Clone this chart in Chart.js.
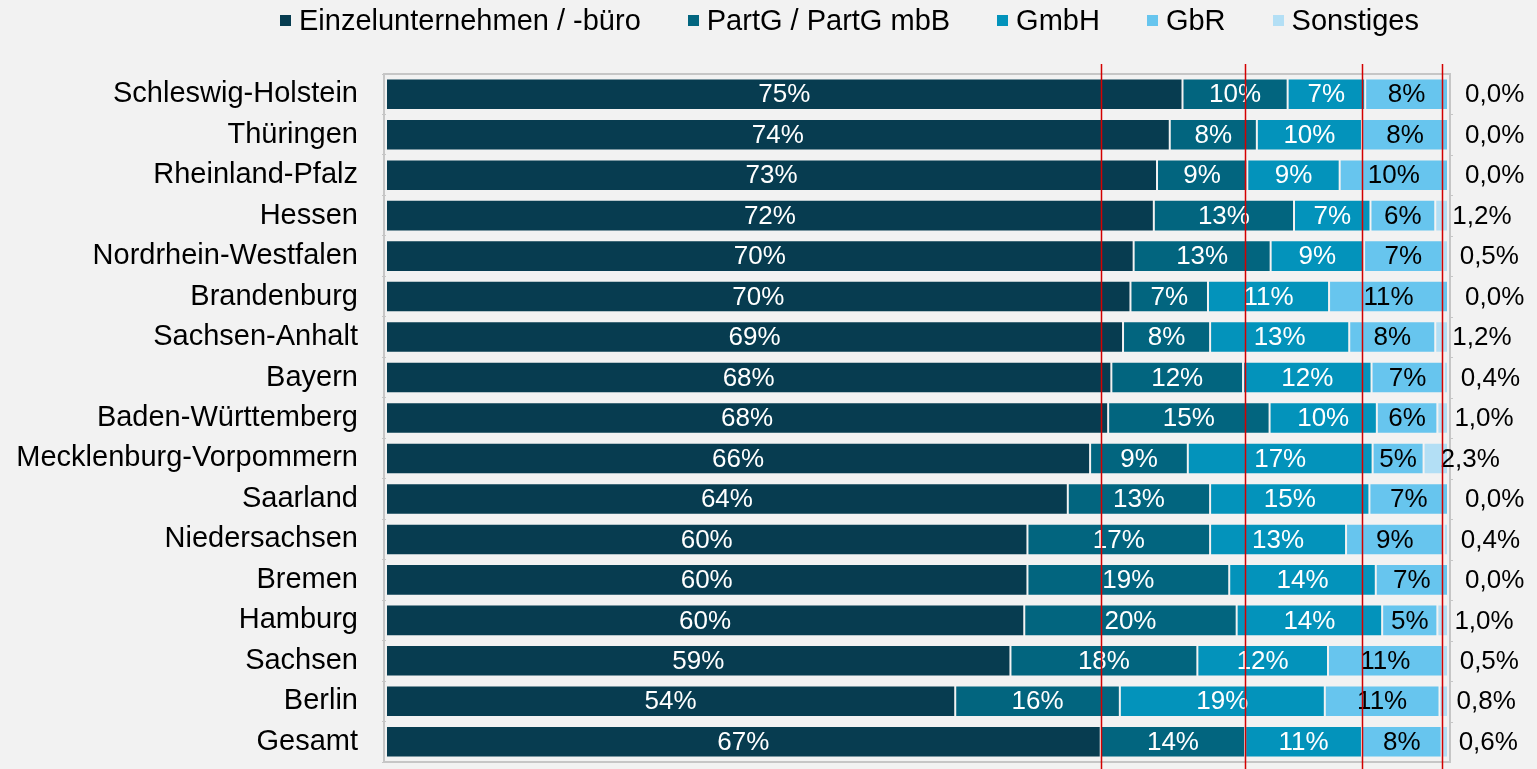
<!DOCTYPE html>
<html lang="de">
<head>
<meta charset="utf-8">
<title>Rechtsformen nach Bundesland</title>
<script src="https://cdn.jsdelivr.net/npm/chart.js@4"></script>
<style>
  body { margin: 0; background: #f2f2f2; font-family: "Liberation Sans", Arial, sans-serif; }
  #wrap { position: relative; width: 1537px; height: 769px; }
  #legend { position: absolute; top: 4px; left: 280px; display: flex; gap: 47px; font-size: 29px; line-height: 32px; color: #000; }
  .item { display: flex; align-items: center; }
  .box { width: 11px; height: 11px; margin-right: 8px; }
  canvas { position: absolute; left: 0; top: 0; }
</style>
</head>
<body>
<div id="wrap">
  <canvas id="myChart" width="1537" height="769"></canvas>
  <div id="legend"></div>
</div>
<script>
  // Kategorien (Bundesländer)
  const categories = ["Schleswig-Holstein", "Thüringen", "Rheinland-Pfalz", "Hessen", "Nordrhein-Westfalen",
    "Brandenburg", "Sachsen-Anhalt", "Bayern", "Baden-Württemberg", "Mecklenburg-Vorpommern",
    "Saarland", "Niedersachsen", "Bremen", "Hamburg", "Sachsen", "Berlin", "Gesamt"];

  // Anteile in Prozent
  const einzel = [75.0, 73.8, 72.6, 72.3, 70.4, 70.1, 69.4, 68.3, 68.0, 66.3, 64.2, 60.4, 60.4, 60.1, 58.8, 53.6, 67.3];
  const partg = [9.9, 8.2, 8.5, 13.2, 12.9, 7.3, 8.2, 12.4, 15.2, 9.2, 13.4, 17.2, 19.0, 20.0, 17.6, 15.5, 13.6];
  const gmbh = [7.3, 9.9, 8.7, 7.2, 8.8, 11.4, 13.1, 12.1, 10.1, 17.4, 15.0, 12.8, 13.8, 13.7, 12.3, 19.3, 11.0];
  const gbr = [7.8, 8.1, 10.2, 6.1, 7.4, 11.2, 8.1, 6.8, 5.7, 4.8, 7.4, 9.2, 6.8, 5.2, 10.8, 10.8, 7.5];
  const sonstiges = [0.0, 0.0, 0.0, 1.2, 0.5, 0.0, 1.2, 0.4, 1.0, 2.3, 0.0, 0.4, 0.0, 1.0, 0.5, 0.8, 0.6];

  const seriesNames = ["Einzelunternehmen / -büro", "PartG / PartG mbB", "GmbH", "GbR", "Sonstiges"];
  const seriesColors = ["#073c50", "#02657f", "#0393bb", "#67c5ee", "#b3dff5"];
  const seriesData = [einzel, partg, gmbh, gbr, sonstiges];

  const FONT = '"Liberation Sans", Arial, sans-serif';

  // Legend als HTML
  const legendEl = document.getElementById("legend");
  seriesNames.forEach((name, i) => {
    const item = document.createElement("div");
    item.className = "item";
    const box = document.createElement("span");
    box.className = "box";
    box.style.background = seriesColors[i];
    const txt = document.createElement("span");
    txt.textContent = name;
    item.appendChild(box);
    item.appendChild(txt);
    legendEl.appendChild(item);
  });

  // Rahmen um die Plotfläche, kleine Teilstriche rechts
  const framePlugin = {
    id: "frame",
    beforeDatasetsDraw(chart) {
      const { ctx, chartArea: a } = chart;
      const yScale = chart.scales.y;
      ctx.save();
      ctx.strokeStyle = "#c6c6c6";
      ctx.lineWidth = 2;
      ctx.strokeRect(a.left - 2, a.top, a.right - a.left + 4, a.bottom - a.top);
      ctx.lineWidth = 1;
      for (let i = 1; i < categories.length; i++) {
        const y = Math.round((yScale.getPixelForTick(i - 1) + yScale.getPixelForTick(i)) / 2) + 0.5;
        ctx.beginPath();
        ctx.moveTo(a.right + 2, y);
        ctx.lineTo(a.right + 5, y);
        ctx.stroke();
      }
      ctx.restore();
    },
  };

  // Beschriftung der Segmente
  const labelPlugin = {
    id: "segmentLabels",
    afterDatasetsDraw(chart) {
      const ctx = chart.ctx;
      ctx.save();
      ctx.font = "26px " + FONT;
      ctx.textBaseline = "middle";
      chart.data.datasets.forEach((ds, di) => {
        const meta = chart.getDatasetMeta(di);
        meta.data.forEach((bar, i) => {
          const v = ds.data[i];
          if (di < 4) {
            ctx.textAlign = "center";
            ctx.fillStyle = di < 3 ? "#ffffff" : "#000000";
            ctx.fillText(Math.round(v) + "%", (bar.x + bar.base) / 2, bar.y + 1);
          } else {
            ctx.textAlign = "left";
            ctx.fillStyle = "#000000";
            ctx.fillText(v.toFixed(1).replace(".", ",") + "%", bar.base + 17, bar.y + 1);
          }
        });
      });
      ctx.restore();
    },
  };

  // Rote Hilfslinien an den kumulierten Werten von "Gesamt"
  const refLinePlugin = {
    id: "refLines",
    afterDraw(chart) {
      const { ctx } = chart;
      const xScale = chart.scales.x;
      const g = categories.length - 1;
      let cum = 0;
      ctx.save();
      ctx.strokeStyle = "#d40000";
      ctx.lineWidth = 1.5;
      for (let s = 0; s < 4; s++) {
        cum += seriesData[s][g];
        const x = Math.round(xScale.getPixelForValue(cum)) + 0.5;
        ctx.beginPath();
        ctx.moveTo(x, 64);
        ctx.lineTo(x, chart.height);
        ctx.stroke();
      }
      ctx.restore();
    },
  };

  const ctx = document.getElementById("myChart");
  const myChart = new Chart(ctx, {
    type: "bar",
    data: {
      labels: categories,
      datasets: seriesNames.map((name, i) => ({
        label: name,
        data: seriesData[i],
        backgroundColor: seriesColors[i],
        borderColor: "#f2f2f2",
        borderWidth: 1,
        borderSkipped: false,
        barPercentage: 0.78,
        categoryPercentage: 1.0,
      })),
    },
    options: {
      indexAxis: "y",
      responsive: false,
      animation: false,
      devicePixelRatio: 1,
      layout: {
        padding: { top: 74, bottom: 7, right: 89, left: 0 },
      },
      plugins: {
        legend: { display: false },
        tooltip: { enabled: false },
      },
      scales: {
        x: {
          stacked: true,
          min: 0,
          max: 100,
          display: false,
        },
        y: {
          stacked: true,
          afterFit(scale) {
            scale.width = 386;
            scale.paddingTop = 0;
            scale.paddingBottom = 0;
          },
          border: { display: false },
          grid: {
            display: true,
            drawOnChartArea: false,
            drawTicks: true,
            tickLength: 4,
            color: "#c6c6c6",
            offset: true,
          },
          ticks: {
            color: "#000000",
            padding: 24,
            font: { family: FONT, size: 29 },
          },
        },
      },
    },
    plugins: [framePlugin, labelPlugin, refLinePlugin],
  });
</script>
</body>
</html>
